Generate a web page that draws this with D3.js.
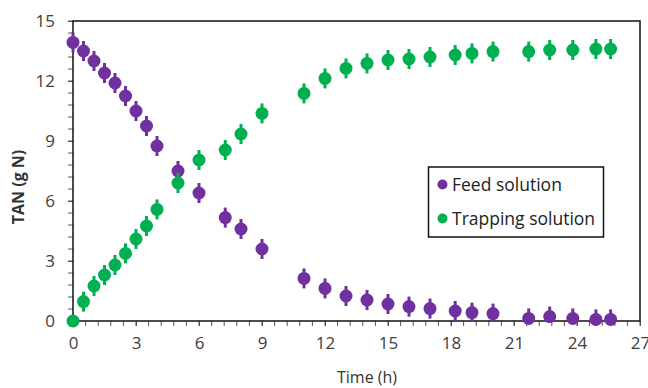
<!DOCTYPE html>
<html><head><meta charset="utf-8">
<script src="https://cdn.jsdelivr.net/npm/d3@7"></script>
<style>body{margin:0;background:#fff;}svg{display:block;font-family:'Open Sans',sans-serif;}</style>
</head><body><svg id="c" width="648" height="388"></svg>
<script>
const feedTime = [0,0.5,1,1.5,2,2.5,3,3.5,4,5,6,7.25,8,9,11,12,13,14,15,16,17,18.2,19,20,21.7,22.7,23.8,24.9,25.6];
const feedVal  = [13.93,13.5,13.0,12.4,11.9,11.25,10.5,9.75,8.75,7.5,6.4,5.17,4.6,3.6,2.13,1.63,1.25,1.05,0.85,0.72,0.62,0.5,0.42,0.37,0.13,0.22,0.13,0.08,0.08];
const trapTime = [0,0.5,1,1.5,2,2.5,3,3.5,4,5,6,7.25,8,9,11,12,13,14,15,16,17,18.2,19,20,21.7,22.7,23.8,24.9,25.6];
const trapVal  = [0,0.97,1.75,2.3,2.8,3.38,4.1,4.75,5.58,6.9,8.05,8.55,9.35,10.38,11.38,12.13,12.63,12.88,13.05,13.1,13.2,13.3,13.38,13.47,13.47,13.55,13.55,13.6,13.6];
const errBar = 0.5;
const xTicks = [0,3,6,9,12,15,18,21,24,27];
const yTicks = [0,3,6,9,12,15];
const seriesNames = ["Feed solution","Trapping solution"];
const colors = ["#7030A0","#00B050"];

const svg = d3.select("#c");
const L=73,R=640,T=21,B=321;
const x = d3.scaleLinear().domain([0,27]).range([L,R]);
const y = d3.scaleLinear().domain([0,15]).range([B,T]);

// minor ticks
const minorX = d3.range(0,27.001,0.6);
const minorY = d3.range(0,15.001,0.6);
svg.append("g").selectAll("line").data(minorX).join("line")
  .attr("x1",d=>x(d)).attr("x2",d=>x(d)).attr("y1",B).attr("y2",B+5)
  .attr("stroke","#555").attr("stroke-width",1);
svg.append("g").selectAll("line").data(minorY).join("line")
  .attr("y1",d=>y(d)).attr("y2",d=>y(d)).attr("x1",L-5).attr("x2",L)
  .attr("stroke","#555").attr("stroke-width",1);

// axes
const xAxis = svg.append("g").attr("transform",`translate(0,${B})`)
  .call(d3.axisBottom(x).tickValues(xTicks).tickSize(5).tickPadding(11));
const yAxis = svg.append("g").attr("transform",`translate(${L},0)`)
  .call(d3.axisLeft(y).tickValues(yTicks).tickSize(5).tickPadding(13));
[xAxis,yAxis].forEach(a=>{
  a.select(".domain").remove();
  a.selectAll(".tick line").attr("stroke","#555");
  a.selectAll("text").attr("font-size",17).attr("fill","#404040").attr("font-family","'Open Sans',sans-serif");
});
// frame
svg.append("rect").attr("x",L).attr("y",T).attr("width",R-L).attr("height",B-T)
  .attr("fill","none").attr("stroke","#111").attr("stroke-width",1.5);

// series
const series = [
  {t:feedTime,v:feedVal,c:colors[0]},
  {t:trapTime,v:trapVal,c:colors[1]}
];
series.forEach(s=>{
  const data = s.t.map((t,i)=>({t,v:s.v[i]}));
  const g = svg.append("g");
  g.selectAll("line").data(data.filter(d=>d.v>0)).join("line")
    .attr("x1",d=>x(d.t)).attr("x2",d=>x(d.t))
    .attr("y1",d=>y(Math.max(0,d.v-errBar))).attr("y2",d=>y(d.v+errBar))
    .attr("stroke",s.c).attr("stroke-width",3);
  g.selectAll("circle").data(data).join("circle")
    .attr("cx",d=>x(d.t)).attr("cy",d=>y(d.v)).attr("r",6.5).attr("fill",s.c);
});

// legend
const lg = svg.append("g");
lg.append("rect").attr("x",428.5).attr("y",167).attr("width",175).attr("height",70)
  .attr("fill","#fff").attr("stroke","#111").attr("stroke-width",1.5);
seriesNames.forEach((n,i)=>{
  const cy = 184.5 + i*34;
  lg.append("circle").attr("cx",442.5).attr("cy",cy).attr("r",5).attr("fill",colors[i]);
  lg.append("text").attr("x",452).attr("y",cy).attr("dy","0.35em").attr("font-size",17.5)
    .attr("fill","#222").text(n);
});

// axis titles
svg.append("text").attr("x",367).attr("y",383).attr("text-anchor","middle")
  .attr("font-size",16).attr("fill","#333").text("Time (h)");
svg.append("text").attr("transform","translate(24,187) rotate(-90)").attr("text-anchor","middle")
  .attr("font-size",16).attr("font-weight","bold").attr("fill","#333").text("TAN (g N)");
</script></body></html>
